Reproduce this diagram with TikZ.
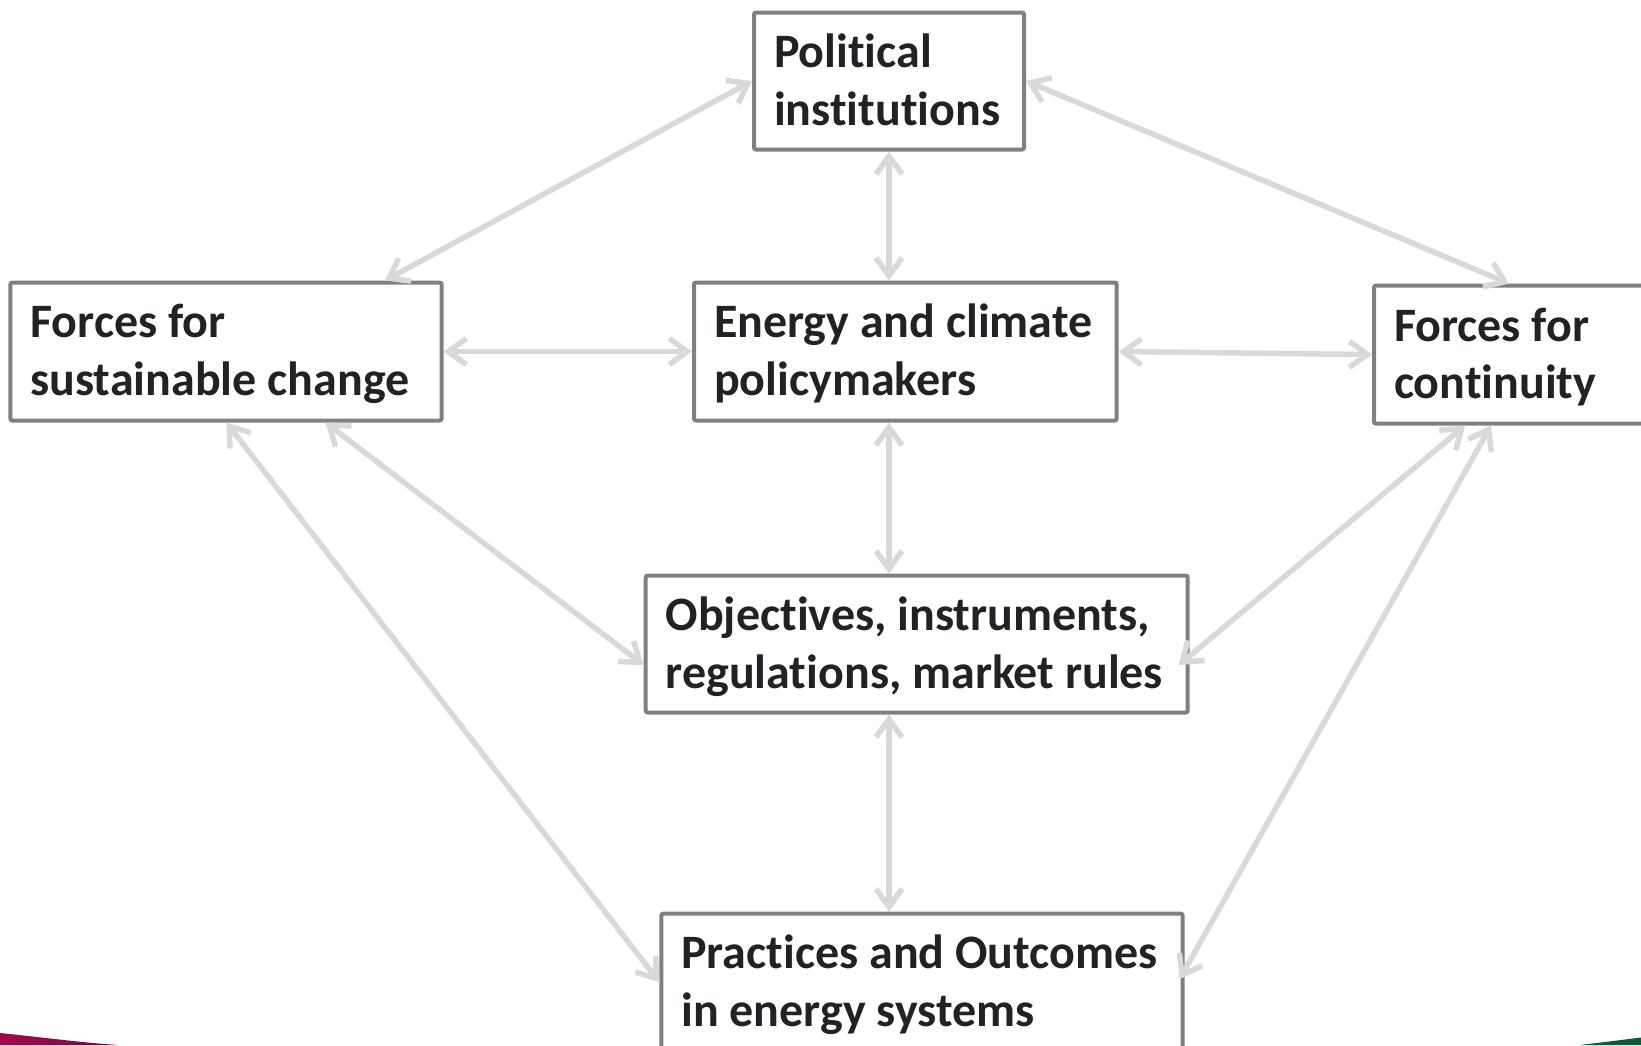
\documentclass[tikz,border=0pt]{standalone}
\usepackage{fontspec}
\setmainfont{Carlito}[Ligatures={NoCommon}]
\usetikzlibrary{arrows.meta,calc}

\definecolor{boxline}{HTML}{808080}
\definecolor{linkgray}{HTML}{D9D9D9}
\definecolor{inkdark}{HTML}{1F2326}
\definecolor{swooshred}{HTML}{A3084F}
\definecolor{swooshdark}{HTML}{6E0F35}
\definecolor{swooshgreen}{HTML}{0E5B3A}

% two fixed lines, baseline of the box on the last line
\newcommand{\twolines}[3]{\parbox[b]{#1}{\mbox{#2}\\\mbox{#3}}}

\tikzset{
  box/.style={draw=boxline, line width=4pt, rounded corners=2pt, fill=white,
    inner xsep=20pt, inner ysep=0pt, text height=88pt, text depth=0pt,
    anchor=north west, text=inkdark,
    font={\fontsize{48pt}{57.6pt}\selectfont\bfseries}},
  barb/.tip={Straight Barb[length=18pt,width=26pt]},
  link/.style={draw=linkgray, line width=5.5pt, barb-barb,
    preaction={draw=black!40, opacity=0.25,
      transform canvas={shift={(1.2pt,-1.8pt)}}}}
}

\begin{document}
\begin{tikzpicture}[x=1pt, y=-1pt]
  \useasboundingbox (0,0) rectangle (1641,1045);
  \clip (0,0) rectangle (1641,1045);
  \fill[white] (0,0) rectangle (1641,1045);

  % slide corner swooshes
  \shade[left color=swooshred, right color=swooshdark]
    (0,1033) .. controls (40,1037) and (80,1042.5) .. (118,1045) -- (0,1045) -- cycle;
  \fill[swooshgreen]
    (1580,1045) .. controls (1605,1042) and (1625,1039.5) .. (1641,1037.5) -- (1641,1045) -- cycle;

  % boxes
  \node[box, minimum width=270pt, minimum height=137pt] (pol) at (752,10.5)
    {\twolines{230pt}{Political}{institutions}};
  \node[box, minimum width=431.2pt, minimum height=138pt] (fsc) at (8.4,280.5)
    {\twolines{391.2pt}{Forces for}{sustainable change}};
  \node[box, minimum width=422.7pt, minimum height=138pt] (ene) at (692,280.5)
    {\twolines{382.7pt}{Energy and climate}{policymakers}};
  \node[box, minimum width=300pt, minimum height=138pt] (fc) at (1372,283.6)
    {\twolines{260pt}{Forces for}{continuity}};
  \node[box, minimum width=542pt, minimum height=137pt] (obj) at (643.7,573.5)
    {\twolines{502pt}{Objectives, instruments,}{regulations, market rules}};
  \node[box, minimum width=521.2pt, minimum height=137pt] (prac) at (659.4,911.6)
    {\twolines{481.2pt}{Practices and Outcomes}{in energy systems}};

  % two-way links
  \draw[link] (pol.west) -- ($(fsc.north west)+(376.6,0)$);
  \draw[link] (pol.east) -- ($(fc.north west)+(137,0)$);
  \draw[link] (pol.south) -- (pol.south |- ene.north);
  \draw[link] (fsc.east) -- (ene.west);
  \draw[link] (ene.east) -- (fc.west);
  \draw[link] (pol.south |- ene.south) -- (pol.south |- obj.north);
  \draw[link] (pol.south |- obj.south) -- (pol.south |- prac.north);
  \draw[link] ($(fsc.south west)+(317,0)$) -- ($(obj.west)+(0,21)$);
  \draw[link] ($(fsc.south west)+(218,0)$) -- (prac.west);
  \draw[link] ($(fc.south west)+(93,0)$) -- ($(obj.east)+(-11,21)$);
  \draw[link] ($(fc.south west)+(119,0)$) -- ($(prac.east)+(-5,-3)$);
\end{tikzpicture}
\end{document}
